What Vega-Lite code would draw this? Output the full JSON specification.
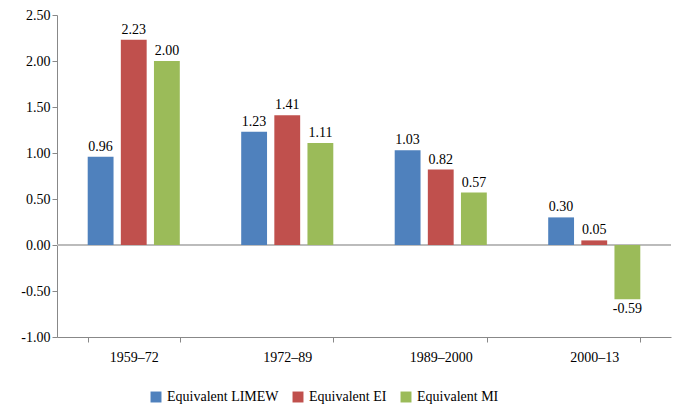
{
"$schema":"https://vega.github.io/schema/vega-lite/v6.json",
"width":614,"height":322,
"autosize":{"type":"none"},
"padding":{"left":57,"top":15,"right":3,"bottom":71},
"config":{"font":"Liberation Serif","view":{"stroke":null},"axis":{"labelFont":"Liberation Serif","labelFontSize":14,"labelColor":"#000"},"legend":{"labelFont":"Liberation Serif","labelFontSize":14,"labelColor":"#000"}},
"data":{"values":[
{"p":"1959–72","s":"Equivalent LIMEW","v":0.96,"t":"0.96"},{"p":"1959–72","s":"Equivalent EI","v":2.23,"t":"2.23"},{"p":"1959–72","s":"Equivalent MI","v":2.00,"t":"2.00"},
{"p":"1972–89","s":"Equivalent LIMEW","v":1.23,"t":"1.23"},{"p":"1972–89","s":"Equivalent EI","v":1.41,"t":"1.41"},{"p":"1972–89","s":"Equivalent MI","v":1.11,"t":"1.11"},
{"p":"1989–2000","s":"Equivalent LIMEW","v":1.03,"t":"1.03"},{"p":"1989–2000","s":"Equivalent EI","v":0.82,"t":"0.82"},{"p":"1989–2000","s":"Equivalent MI","v":0.57,"t":"0.57"},
{"p":"2000–13","s":"Equivalent LIMEW","v":0.30,"t":"0.30"},{"p":"2000–13","s":"Equivalent EI","v":0.05,"t":"0.05"},{"p":"2000–13","s":"Equivalent MI","v":-0.59,"t":"-0.59"}
]},
"encoding":{
"x":{"field":"p","type":"nominal","sort":null,"title":null,"scale":{"paddingInner":0.4,"paddingOuter":0.2},"axis":{"labelAngle":0,"domainColor":"#888","tickColor":"#888","tickBand":"extent","labelPadding":8}},
"xOffset":{"field":"s","sort":["Equivalent LIMEW","Equivalent EI","Equivalent MI"],"scale":{"paddingInner":0.22}},
"y":{"field":"v","type":"quantitative","title":null,"scale":{"domain":[-1,2.5]},"axis":{"values":[-1,-0.5,0,0.5,1,1.5,2,2.5],"labelExpr":"replace(format(datum.value,'.2f'),'−','-')","grid":false,"domainColor":"#888","tickColor":"#888","tickSize":5}}
},
"layer":[
{"mark":{"type":"rule","color":"#bbb"},"encoding":{"x":null,"xOffset":null,"y":{"datum":0}}},
{"mark":{"type":"bar"},"encoding":{"color":{"field":"s","sort":["Equivalent LIMEW","Equivalent EI","Equivalent MI"],"scale":{"range":["#4F81BD","#C0504D","#9BBB59"]},"legend":{"orient":"none","legendX":92,"legendY":375,"title":null,"direction":"horizontal","symbolType":"square","symbolSize":120,"columnPadding":12}}}},
{"transform":[{"filter":"datum.v>=0"}],"mark":{"type":"text","baseline":"bottom","dy":-3,"fontSize":14},"encoding":{"text":{"field":"t"}}},
{"transform":[{"filter":"datum.v<0"}],"mark":{"type":"text","baseline":"top","dy":3,"fontSize":14},"encoding":{"text":{"field":"t"}}}
]
}
